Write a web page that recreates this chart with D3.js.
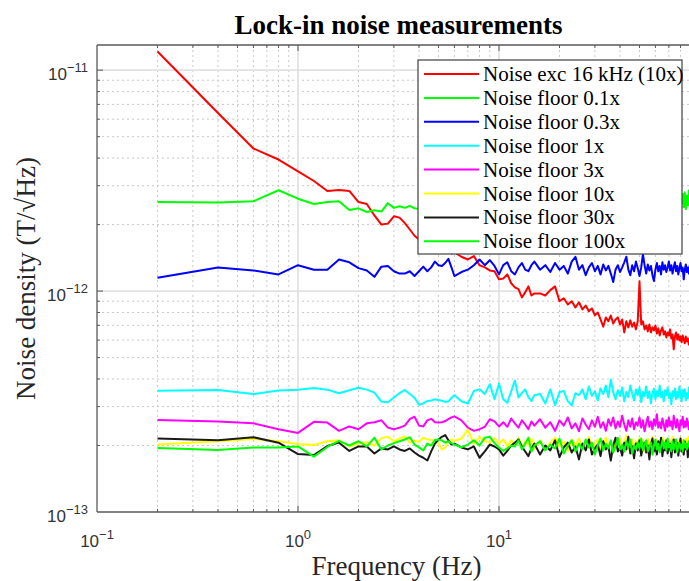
<!DOCTYPE html>
<html>
<head>
<meta charset="utf-8">
<script src="https://cdn.jsdelivr.net/npm/d3@7"></script>
<style>
  body { margin: 0; background: #fff; }
  svg { display: block; }
</style>
</head>
<body>
<div id="chart"></div>
<script>
// frequency grid (Hz)
const freq = [
  0.2, 0.4, 0.6, 0.8, 1.0, 1.2, 1.4, 1.6, 1.8, 2.0, 2.2, 2.4, 2.6, 2.8, 3.0, 3.2, 3.4, 3.6, 3.8, 4.0, 4.2, 4.4, 4.6, 4.8, 5.0, 5.2, 5.4, 5.6, 5.8, 6.0,
  6.5, 7, 7.5, 8, 8.5, 9, 9.5, 10, 10.5, 11, 11.5, 12, 12.5, 13, 13.5, 14, 14.5, 15,
  16, 17, 18, 19, 20, 21, 22, 23, 24, 25, 26, 27, 28, 29, 30, 31, 32, 33, 34, 35, 36, 37, 38, 39, 40,
  41, 42, 43, 44, 45, 46, 47, 48, 49, 50, 51, 52, 53, 54, 55, 56, 57, 58, 59, 60, 61, 62, 63, 64, 65,
  66, 67, 68, 69, 70, 71, 72, 73, 74, 75, 76, 77, 78, 79, 80, 81, 82, 83, 84, 85, 86, 87, 88, 89, 90
];

// noise density, in units of 1e-12 T/sqrt(Hz)
const excNoise = [
  12.15, 6.4, 4.42, 3.94, 3.48, 3.15, 2.84, 2.87, 2.84, 2.53, 2.48, 2.2, 2.0, 2.02, 2.18, 2.15, 2.03, 1.9, 1.78, 1.71, 1.66, 1.62, 1.68, 1.6, 1.57, 1.6, 1.52, 1.55, 1.48, 1.5,
  1.43, 1.39, 1.44, 1.31, 1.28, 1.24, 1.23, 1.13, 1.14, 1.19, 1.085, 1.04, 1.02, 0.936, 0.987, 1.05, 0.955, 0.976,
  0.976, 0.955, 1.01, 1.05, 0.9, 0.928, 0.87, 0.9, 0.843, 0.89, 0.826, 0.86, 0.81, 0.835, 0.776, 0.8, 0.744, 0.69, 0.76, 0.73, 0.776, 0.713, 0.744, 0.76, 0.706,
  0.744, 0.65, 0.73, 0.685, 0.737, 0.69, 0.72, 0.671, 0.73, 1.108, 0.706, 0.73, 0.671, 0.699, 0.657, 0.706, 0.65, 0.685, 0.664, 0.699, 0.643, 0.678, 0.63, 0.664, 0.685,
  0.636, 0.657, 0.617, 0.65, 0.63, 0.671, 0.61, 0.636, 0.545, 0.623, 0.65, 0.604, 0.636, 0.598, 0.623, 0.586, 0.63, 0.604, 0.58, 0.623, 0.592, 0.61, 0.573, 0.604, 0.586
];
const floor01 = [
  2.53, 2.52, 2.55, 2.86, 2.62, 2.48, 2.53, 2.55, 2.33, 2.37, 2.28, 2.32, 2.29, 2.5, 2.38, 2.42, 2.38, 2.43, 2.37, 2.35, 2.4, 2.46, 2.38, 2.5, 2.42, 2.47, 2.36, 2.44, 2.52, 2.41,
  2.48, 2.39, 2.5, 2.43, 2.55, 2.4, 2.47, 2.52, 2.38, 2.49, 2.44, 2.56, 2.41, 2.5, 2.45, 2.58, 2.42, 2.51,
  2.44, 2.6, 2.39, 2.53, 2.47, 2.62, 2.41, 2.55, 2.45, 2.36, 2.58, 2.48, 2.64, 2.43, 2.52, 2.4, 2.57, 2.46, 2.61, 2.42, 2.54, 2.49, 2.38, 2.59, 2.47,
  2.56, 2.43, 2.65, 2.5, 2.41, 2.6, 2.46, 2.53, 2.39, 2.62, 2.48, 2.55, 2.44, 2.66, 2.42, 2.58, 2.5, 2.45, 2.63, 2.47, 2.4, 2.59, 2.52, 2.67, 2.44,
  2.57, 2.49, 2.62, 2.43, 2.55, 2.68, 2.46, 2.6, 2.5, 2.41, 2.64, 2.53, 2.47, 2.7, 2.45, 2.5, 2.75, 2.4, 2.8, 2.35, 2.7, 2.45, 2.85, 2.4, 2.65
];
const floor03 = [
  1.15, 1.28, 1.24, 1.19, 1.31, 1.25, 1.25, 1.39, 1.35, 1.27, 1.24, 1.16, 1.29, 1.30, 1.23, 1.2, 1.2, 1.23, 1.17, 1.23, 1.29, 1.23, 1.28, 1.36, 1.31, 1.3, 1.34, 1.4, 1.28, 1.17,
  1.22, 1.25, 1.31, 1.39, 1.31, 1.38, 1.3, 1.19, 1.31, 1.35, 1.23, 1.19, 1.28, 1.34, 1.25, 1.23, 1.31, 1.36,
  1.25, 1.31, 1.22, 1.34, 1.25, 1.3, 1.2, 1.36, 1.43, 1.25, 1.31, 1.18, 1.28, 1.34, 1.23, 1.3, 1.19, 1.32, 1.24, 1.3, 1.2, 1.1, 1.25, 1.31, 1.22,
  1.28, 1.35, 1.43, 1.25, 1.18, 1.31, 1.23, 1.36, 1.27, 1.17, 1.28, 1.47, 1.31, 1.2, 1.32, 1.24, 1.3, 1.18, 1.11, 1.25, 1.34, 1.23, 1.3, 1.19, 1.35,
  1.25, 1.31, 1.22, 1.28, 1.36, 1.24, 1.31, 1.2, 1.28, 1.35, 1.23, 1.3, 1.19, 1.27, 1.34, 1.23, 1.28, 1.13, 1.25, 1.32, 1.22, 1.28, 1.2, 1.31, 1.24
];
const floor1 = [
  0.354, 0.357, 0.342, 0.355, 0.358, 0.364, 0.358, 0.345, 0.356, 0.365, 0.358, 0.347, 0.316, 0.314, 0.33, 0.345, 0.357, 0.342, 0.329, 0.306, 0.31, 0.318, 0.32, 0.324, 0.321, 0.319, 0.315, 0.317, 0.328, 0.338,
  0.317, 0.31, 0.353, 0.359, 0.342, 0.379, 0.324, 0.382, 0.324, 0.312, 0.352, 0.394, 0.33, 0.345, 0.359, 0.331, 0.318, 0.338,
  0.342, 0.31, 0.359, 0.304, 0.349, 0.353, 0.317, 0.304, 0.345, 0.338, 0.359, 0.324, 0.37, 0.335, 0.352, 0.32, 0.362, 0.342, 0.374, 0.331, 0.398, 0.349, 0.324, 0.356, 0.335,
  0.366, 0.317, 0.349, 0.331, 0.374, 0.342, 0.32, 0.359, 0.338, 0.366, 0.314, 0.349, 0.335, 0.37, 0.328, 0.352, 0.31, 0.345, 0.362, 0.324, 0.352, 0.335, 0.374, 0.331, 0.349,
  0.317, 0.356, 0.338, 0.366, 0.328, 0.345, 0.307, 0.352, 0.335, 0.362, 0.324, 0.349, 0.331, 0.37, 0.338, 0.317, 0.356, 0.335, 0.359, 0.32, 0.345, 0.328, 0.366, 0.342, 0.331
];
const floor3 = [
  0.261, 0.257, 0.252, 0.237, 0.228, 0.256, 0.254, 0.233, 0.244, 0.237, 0.252, 0.255, 0.26, 0.241, 0.237, 0.241, 0.246, 0.263, 0.27, 0.246, 0.244, 0.26, 0.264, 0.255, 0.254, 0.255, 0.258, 0.263, 0.268, 0.271,
  0.26, 0.241, 0.233, 0.237, 0.243, 0.263, 0.257, 0.244, 0.255, 0.243, 0.265, 0.252, 0.241, 0.26, 0.249, 0.237, 0.257, 0.246,
  0.263, 0.241, 0.255, 0.233, 0.26, 0.246, 0.268, 0.239, 0.252, 0.232, 0.265, 0.249, 0.237, 0.26, 0.243, 0.27, 0.241, 0.255, 0.233, 0.263, 0.246, 0.268, 0.239, 0.257, 0.243,
  0.273, 0.249, 0.233, 0.26, 0.243, 0.265, 0.237, 0.255, 0.246, 0.268, 0.241, 0.26, 0.232, 0.252, 0.27, 0.243, 0.257, 0.237, 0.263, 0.246, 0.277, 0.241, 0.255, 0.239, 0.265,
  0.249, 0.233, 0.26, 0.243, 0.268, 0.246, 0.257, 0.237, 0.273, 0.252, 0.241, 0.263, 0.246, 0.232, 0.26, 0.249, 0.27, 0.241, 0.257, 0.243, 0.265, 0.252, 0.237, 0.26, 0.246
];
const floor10 = [
  0.202, 0.209, 0.214, 0.209, 0.203, 0.201, 0.209, 0.211, 0.198, 0.204, 0.207, 0.2, 0.216, 0.219, 0.209, 0.215, 0.22, 0.206, 0.21, 0.208, 0.217, 0.213, 0.212, 0.21, 0.204, 0.192, 0.196, 0.211, 0.213, 0.21,
  0.215, 0.236, 0.203, 0.219, 0.21, 0.206, 0.216, 0.204, 0.213, 0.198, 0.211, 0.202, 0.217, 0.196, 0.209, 0.2, 0.215, 0.194,
  0.211, 0.192, 0.206, 0.217, 0.198, 0.209, 0.188, 0.213, 0.2, 0.215, 0.196, 0.206, 0.219, 0.194, 0.204, 0.213, 0.19, 0.202, 0.217, 0.198, 0.209, 0.186, 0.211, 0.2, 0.215,
  0.196, 0.206, 0.222, 0.192, 0.204, 0.213, 0.194, 0.209, 0.2, 0.217, 0.198, 0.211, 0.188, 0.204, 0.215, 0.196, 0.206, 0.219, 0.192, 0.202, 0.213, 0.194, 0.209, 0.198, 0.217,
  0.2, 0.211, 0.19, 0.204, 0.215, 0.196, 0.206, 0.219, 0.192, 0.202, 0.213, 0.194, 0.209, 0.2, 0.217, 0.198, 0.211, 0.188, 0.204, 0.215, 0.196, 0.206, 0.219, 0.2, 0.209
];
const floor30 = [
  0.215, 0.211, 0.218, 0.206, 0.183, 0.181, 0.199, 0.206, 0.189, 0.198, 0.198, 0.184, 0.194, 0.192, 0.198, 0.192, 0.189, 0.194, 0.186, 0.18, 0.176, 0.171, 0.188, 0.204, 0.213, 0.219, 0.223, 0.211, 0.202, 0.204,
  0.196, 0.192, 0.198, 0.176, 0.188, 0.202, 0.198, 0.192, 0.18, 0.189, 0.2, 0.206, 0.213, 0.198, 0.188, 0.179, 0.194, 0.204,
  0.182, 0.2, 0.19, 0.211, 0.177, 0.196, 0.206, 0.186, 0.198, 0.173, 0.204, 0.19, 0.213, 0.182, 0.194, 0.202, 0.179, 0.209, 0.192, 0.198, 0.171, 0.2, 0.217, 0.188, 0.196,
  0.18, 0.206, 0.192, 0.219, 0.184, 0.198, 0.175, 0.204, 0.19, 0.211, 0.18, 0.196, 0.206, 0.186, 0.2, 0.173, 0.202, 0.215, 0.188, 0.198, 0.182, 0.209, 0.192, 0.217, 0.179,
  0.2, 0.19, 0.211, 0.184, 0.196, 0.204, 0.177, 0.198, 0.213, 0.186, 0.194, 0.206, 0.18, 0.2, 0.215, 0.188, 0.198, 0.182, 0.209, 0.192, 0.202, 0.177, 0.204, 0.19, 0.198
];
const floor100 = [
  0.195, 0.191, 0.196, 0.196, 0.198, 0.178, 0.197, 0.21, 0.2, 0.209, 0.198, 0.217, 0.192, 0.2, 0.205, 0.209, 0.213, 0.218, 0.202, 0.196, 0.19, 0.204, 0.2, 0.212, 0.213, 0.211, 0.206, 0.209, 0.205, 0.202,
  0.196, 0.202, 0.211, 0.2, 0.217, 0.219, 0.205, 0.196, 0.189, 0.194, 0.2, 0.198, 0.211, 0.192, 0.204, 0.217, 0.188, 0.2,
  0.209, 0.19, 0.202, 0.194, 0.215, 0.184, 0.2, 0.211, 0.188, 0.204, 0.192, 0.213, 0.196, 0.206, 0.182, 0.2, 0.215, 0.19, 0.204, 0.194, 0.211, 0.186, 0.198, 0.217, 0.192,
  0.202, 0.188, 0.209, 0.196, 0.213, 0.184, 0.2, 0.192, 0.206, 0.194, 0.215, 0.19, 0.202, 0.211, 0.188, 0.198, 0.206, 0.182, 0.2, 0.213, 0.192, 0.204, 0.186, 0.198, 0.211,
  0.194, 0.206, 0.19, 0.215, 0.196, 0.202, 0.188, 0.209, 0.192, 0.2, 0.213, 0.186, 0.198, 0.206, 0.194, 0.202, 0.188, 0.211, 0.196, 0.204, 0.192, 0.2, 0.209, 0.194, 0.202
];

const seriesNames = ["Noise exc 16 kHz (10x)", "Noise floor 0.1x", "Noise floor 0.3x", "Noise floor 1x",
                     "Noise floor 3x", "Noise floor 10x", "Noise floor 30x", "Noise floor 100x"];
const seriesValues = [excNoise, floor01, floor03, floor1, floor3, floor10, floor30, floor100];
const seriesColors = ["#ff0000", "#00ff00", "#0000ff", "#00ffff", "#ff00ff", "#ffff00", "#1a1a1a", "#00ff00"];

const xTickExps = [-1, 0, 1];
const yTickExps = [-13, -12, -11];

// layout
const W = 689, H = 581;
const plot = {left: 97, right: 700, top: 45, bottom: 512};

const svg = d3.select("#chart")
  .append("svg")
    .attr("width", W)
    .attr("height", H)
    .style("font-family", "'Liberation Serif', 'Times New Roman', serif");

const x = d3.scaleLog().domain([0.1, 100]).range([plot.left, plot.right]);
const y = d3.scaleLog().domain([1e-13, 1.3e-11]).range([plot.bottom, plot.top]);

const isMajor = v => Math.abs(Math.log10(v) - Math.round(Math.log10(v))) < 1e-9;

svg.append("defs").append("clipPath").attr("id", "clip")
  .append("rect")
    .attr("x", plot.left).attr("y", plot.top)
    .attr("width", plot.right - plot.left).attr("height", plot.bottom - plot.top);

// grid
const grid = svg.append("g");
const xt = x.ticks().filter(v => v > 0.1 && v < 100);
const yt = y.ticks().filter(v => v > 1e-13 * 1.0001);

grid.selectAll("line.xminor").data(xt.filter(v => !isMajor(v))).enter().append("line")
  .attr("x1", d => x(d)).attr("x2", d => x(d))
  .attr("y1", plot.top).attr("y2", plot.bottom)
  .attr("stroke", "#c9c9c9").attr("stroke-width", 1).attr("stroke-dasharray", "2,3");
grid.selectAll("line.yminor").data(yt.filter(v => !isMajor(v))).enter().append("line")
  .attr("y1", d => y(d)).attr("y2", d => y(d))
  .attr("x1", plot.left).attr("x2", plot.right)
  .attr("stroke", "#c9c9c9").attr("stroke-width", 1).attr("stroke-dasharray", "2,3");
grid.selectAll("line.xmajor").data(xt.filter(isMajor)).enter().append("line")
  .attr("x1", d => x(d)).attr("x2", d => x(d))
  .attr("y1", plot.top).attr("y2", plot.bottom)
  .attr("stroke", "#e2e2e2").attr("stroke-width", 1.8);
grid.selectAll("line.ymajor").data(yt.filter(isMajor)).enter().append("line")
  .attr("y1", d => y(d)).attr("y2", d => y(d))
  .attr("x1", plot.left).attr("x2", plot.right)
  .attr("stroke", "#e2e2e2").attr("stroke-width", 1.8);

// series
const line = d3.line()
  .x(d => x(d.f))
  .y(d => y(d.v));

const lines = svg.append("g").attr("clip-path", "url(#clip)");
seriesValues.forEach((vals, i) => {
  const pts = freq.map((f, j) => ({f: f, v: vals[j] * 1e-12}));
  lines.append("path")
    .datum(pts)
    .attr("d", line)
    .attr("fill", "none")
    .attr("stroke", seriesColors[i])
    .attr("stroke-width", 2)
    .attr("stroke-linejoin", "round");
});

// axes box and inward ticks
const axisColor = "#595959";
const ax = svg.append("g").attr("stroke", axisColor);
ax.append("line").attr("x1", plot.left).attr("x2", plot.left).attr("y1", plot.top).attr("y2", plot.bottom).attr("stroke-width", 1.3);
ax.append("line").attr("x1", plot.left).attr("x2", plot.right).attr("y1", plot.bottom).attr("y2", plot.bottom).attr("stroke-width", 1.3);
ax.append("line").attr("x1", plot.left).attr("x2", plot.right).attr("y1", plot.top).attr("y2", plot.top).attr("stroke-width", 1.3);

xt.forEach(v => {
  const len = isMajor(v) ? 6 : 3;
  ax.append("line").attr("x1", x(v)).attr("x2", x(v)).attr("y1", plot.bottom).attr("y2", plot.bottom - len);
  ax.append("line").attr("x1", x(v)).attr("x2", x(v)).attr("y1", plot.top).attr("y2", plot.top + len);
});
yt.forEach(v => {
  const len = isMajor(v) ? 6 : 3;
  ax.append("line").attr("y1", y(v)).attr("y2", y(v)).attr("x1", plot.left).attr("x2", plot.left + len);
});

// tick labels
const tickFont = "'Liberation Sans', Arial, Helvetica, sans-serif";
const fmtExp = e => (e < 0 ? "\u2212" + (-e) : String(e));

xTickExps.forEach(e => {
  const t = svg.append("text")
    .attr("x", x(Math.pow(10, e)))
    .attr("y", 547)
    .attr("text-anchor", "middle")
    .attr("fill", "#333")
    .style("font-family", tickFont)
    .style("font-size", "17px");
  t.append("tspan").text("10");
  t.append("tspan").attr("dy", -8).style("font-size", "13px").text(fmtExp(e));
});

yTickExps.forEach(e => {
  const t = svg.append("text")
    .attr("x", 88)
    .attr("y", y(Math.pow(10, e)) + 10)
    .attr("text-anchor", "end")
    .attr("fill", "#333")
    .style("font-family", tickFont)
    .style("font-size", "17px");
  t.append("tspan").text("10");
  t.append("tspan").attr("dy", -8).style("font-size", "13px").text(fmtExp(e));
});

// title and axis labels
svg.append("text")
  .attr("x", (plot.left + plot.right) / 2)
  .attr("y", 34)
  .attr("text-anchor", "middle")
  .style("font-size", "27px")
  .style("font-weight", "bold")
  .text("Lock-in noise measurements");

svg.append("text")
  .attr("x", (plot.left + plot.right) / 2 - 2)
  .attr("y", 575)
  .attr("text-anchor", "middle")
  .attr("fill", "#262626")
  .style("font-size", "27px")
  .text("Frequency (Hz)");

svg.append("text")
  .attr("transform", `translate(35, ${(plot.top + plot.bottom) / 2}) rotate(-90)`)
  .attr("text-anchor", "middle")
  .attr("fill", "#262626")
  .style("font-size", "27px")
  .text("Noise density (T/\u221AHz)");

// legend
const legend = svg.append("g");
legend.append("rect")
  .attr("x", 418).attr("y", 60)
  .attr("width", 264).attr("height", 194)
  .attr("fill", "#fff")
  .attr("stroke", "#404040")
  .attr("stroke-width", 1.2);

seriesNames.forEach((name, i) => {
  const cy = 74 + i * 23.9;
  legend.append("line")
    .attr("x1", 424).attr("x2", 479)
    .attr("y1", cy).attr("y2", cy)
    .attr("stroke", seriesColors[i])
    .attr("stroke-width", 2);
  legend.append("text")
    .attr("x", 483)
    .attr("y", cy + 7)
    .attr("fill", "#000")
    .style("font-size", "21px")
    .text(name);
});
</script>
</body>
</html>
